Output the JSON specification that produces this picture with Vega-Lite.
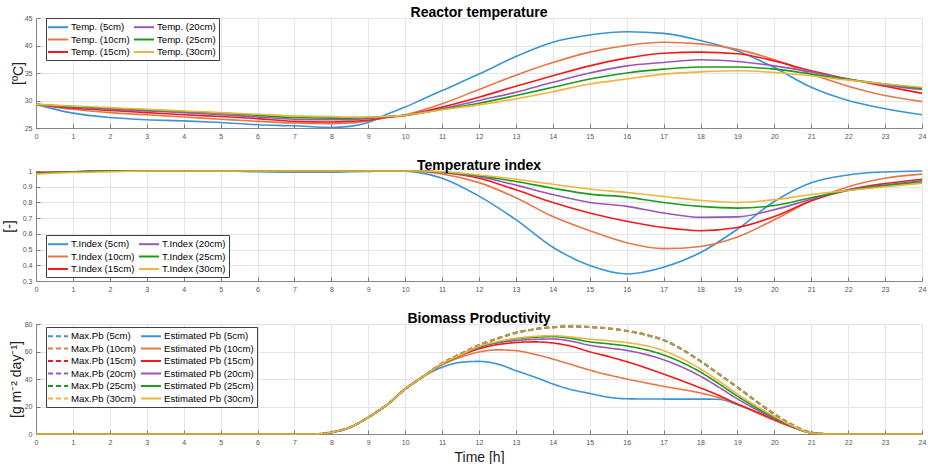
{
"$schema":"https://vega.github.io/schema/vega-lite/v6.json",
"background":"white",
"padding":{"left":2,"top":6,"right":2,"bottom":0},
"bounds":"flush",
"spacing":43,
"resolve":{"scale":{"color":"independent","strokeDash":"independent"},"legend":{"color":"independent","strokeDash":"independent"}},
"config":{
 "font":"Liberation Sans",
 "view":{"stroke":null},
 "axis":{"labelFont":"Liberation Sans","labelFontSize":7,"labelColor":"#555","tickSize":-4,"labelPadding":8,"tickColor":"#777","domainColor":"#888","gridColor":"#e4e4e4","titleFont":"Liberation Sans","titleFontSize":14,"titleFontWeight":"normal","titleColor":"#222","labelFlush":false},
 "axisY":{"titleBaseline":"alphabetic"},
 "title":{"fontSize":14,"fontWeight":"bold","font":"Liberation Sans","color":"#000","offset":-6,"baseline":"alphabetic","frame":"group","anchor":"middle"},
 "legend":{"labelFont":"Liberation Sans","labelFontSize":9.6,"labelColor":"#000","padding":3,"strokeColor":"#404040","fillColor":"#ffffff","rowPadding":1.5,"columnPadding":0,"symbolSize":100,"symbolStrokeWidth":2,"symbolOffset":3,"labelOffset":7,"symbolFillColor":"transparent","symbolOpacity":1,"labelLimit":300}
},
"datasets":{
"t":[
{"h":0,"d":"5cm","T":29.3,"I":0.99},{"h":1,"d":"5cm","T":27.7,"I":0.995},{"h":2,"d":"5cm","T":26.9,"I":1},{"h":3,"d":"5cm","T":26.5,"I":1},{"h":4,"d":"5cm","T":26.3,"I":1},{"h":5,"d":"5cm","T":26.0,"I":1},{"h":6,"d":"5cm","T":25.6,"I":0.995},{"h":7,"d":"5cm","T":25.4,"I":0.993},{"h":8,"d":"5cm","T":25.1,"I":0.993},{"h":8.5,"d":"5cm","T":25.3,"I":0.995},{"h":9,"d":"5cm","T":26.0,"I":0.997},{"h":9.5,"d":"5cm","T":27.5,"I":1},{"h":10,"d":"5cm","T":28.8,"I":0.998},{"h":10.5,"d":"5cm","T":30.3,"I":0.985},{"h":11,"d":"5cm","T":31.8,"I":0.954},{"h":12,"d":"5cm","T":34.8,"I":0.84},{"h":13,"d":"5cm","T":38.0,"I":0.69},{"h":14,"d":"5cm","T":40.6,"I":0.515},{"h":15,"d":"5cm","T":41.9,"I":0.398},{"h":16,"d":"5cm","T":42.5,"I":0.345},{"h":17,"d":"5cm","T":42.2,"I":0.388},{"h":18,"d":"5cm","T":40.9,"I":0.481},{"h":19,"d":"5cm","T":39.0,"I":0.63},{"h":20,"d":"5cm","T":36.0,"I":0.806},{"h":21,"d":"5cm","T":32.4,"I":0.925},{"h":22,"d":"5cm","T":30.0,"I":0.975},{"h":23,"d":"5cm","T":28.5,"I":0.994},{"h":24,"d":"5cm","T":27.4,"I":1},
{"h":0,"d":"10cm","T":29.3,"I":0.99},{"h":1,"d":"10cm","T":28.4,"I":0.995},{"h":2,"d":"10cm","T":27.8,"I":1},{"h":3,"d":"10cm","T":27.4,"I":1},{"h":4,"d":"10cm","T":27.0,"I":1},{"h":5,"d":"10cm","T":26.6,"I":1},{"h":6,"d":"10cm","T":26.2,"I":1},{"h":7,"d":"10cm","T":25.9,"I":0.997},{"h":8,"d":"10cm","T":25.8,"I":0.997},{"h":8.5,"d":"10cm","T":25.9,"I":0.998},{"h":9,"d":"10cm","T":26.3,"I":1},{"h":9.5,"d":"10cm","T":26.9,"I":1},{"h":10,"d":"10cm","T":27.4,"I":1},{"h":10.5,"d":"10cm","T":28.3,"I":0.995},{"h":11,"d":"10cm","T":29.4,"I":0.981},{"h":12,"d":"10cm","T":32.0,"I":0.926},{"h":13,"d":"10cm","T":34.6,"I":0.83},{"h":14,"d":"10cm","T":36.9,"I":0.71},{"h":15,"d":"10cm","T":38.8,"I":0.62},{"h":16,"d":"10cm","T":40.0,"I":0.544},{"h":17,"d":"10cm","T":40.6,"I":0.506},{"h":18,"d":"10cm","T":40.3,"I":0.52},{"h":19,"d":"10cm","T":39.3,"I":0.58},{"h":20,"d":"10cm","T":37.4,"I":0.69},{"h":21,"d":"10cm","T":34.8,"I":0.81},{"h":22,"d":"10cm","T":32.6,"I":0.9},{"h":23,"d":"10cm","T":30.9,"I":0.954},{"h":24,"d":"10cm","T":29.8,"I":0.98},
{"h":0,"d":"15cm","T":29.3,"I":0.99},{"h":1,"d":"15cm","T":28.6,"I":0.995},{"h":2,"d":"15cm","T":28.2,"I":1},{"h":3,"d":"15cm","T":27.8,"I":1},{"h":4,"d":"15cm","T":27.4,"I":1},{"h":5,"d":"15cm","T":27.1,"I":1},{"h":6,"d":"15cm","T":26.7,"I":1},{"h":7,"d":"15cm","T":26.2,"I":0.998},{"h":8,"d":"15cm","T":26.1,"I":0.998},{"h":8.5,"d":"15cm","T":26.2,"I":0.999},{"h":9,"d":"15cm","T":26.4,"I":1},{"h":9.5,"d":"15cm","T":26.9,"I":1},{"h":10,"d":"15cm","T":27.3,"I":1},{"h":10.5,"d":"15cm","T":28.0,"I":0.998},{"h":11,"d":"15cm","T":28.8,"I":0.99},{"h":12,"d":"15cm","T":30.6,"I":0.954},{"h":13,"d":"15cm","T":32.6,"I":0.88},{"h":14,"d":"15cm","T":34.5,"I":0.8},{"h":15,"d":"15cm","T":36.3,"I":0.733},{"h":16,"d":"15cm","T":37.7,"I":0.68},{"h":17,"d":"15cm","T":38.6,"I":0.64},{"h":18,"d":"15cm","T":38.8,"I":0.62},{"h":19,"d":"15cm","T":38.5,"I":0.64},{"h":20,"d":"15cm","T":37.2,"I":0.71},{"h":21,"d":"15cm","T":35.4,"I":0.81},{"h":22,"d":"15cm","T":33.9,"I":0.88},{"h":23,"d":"15cm","T":32.6,"I":0.92},{"h":24,"d":"15cm","T":31.3,"I":0.948},
{"h":0,"d":"20cm","T":29.3,"I":0.985},{"h":1,"d":"20cm","T":28.8,"I":0.995},{"h":2,"d":"20cm","T":28.4,"I":1},{"h":3,"d":"20cm","T":28.1,"I":1},{"h":4,"d":"20cm","T":27.8,"I":1},{"h":5,"d":"20cm","T":27.4,"I":1},{"h":6,"d":"20cm","T":27.0,"I":1},{"h":7,"d":"20cm","T":26.6,"I":1},{"h":8,"d":"20cm","T":26.5,"I":1},{"h":8.5,"d":"20cm","T":26.5,"I":1},{"h":9,"d":"20cm","T":26.7,"I":1},{"h":9.5,"d":"20cm","T":27.0,"I":1},{"h":10,"d":"20cm","T":27.3,"I":1},{"h":10.5,"d":"20cm","T":27.9,"I":1},{"h":11,"d":"20cm","T":28.5,"I":0.99},{"h":12,"d":"20cm","T":30.0,"I":0.964},{"h":13,"d":"20cm","T":31.5,"I":0.91},{"h":14,"d":"20cm","T":33.3,"I":0.85},{"h":15,"d":"20cm","T":35.0,"I":0.8},{"h":16,"d":"20cm","T":36.3,"I":0.775},{"h":17,"d":"20cm","T":36.9,"I":0.733},{"h":18,"d":"20cm","T":37.4,"I":0.705},{"h":19,"d":"20cm","T":37.1,"I":0.708},{"h":20,"d":"20cm","T":36.3,"I":0.754},{"h":21,"d":"20cm","T":35.2,"I":0.82},{"h":22,"d":"20cm","T":33.9,"I":0.88},{"h":23,"d":"20cm","T":32.8,"I":0.91},{"h":24,"d":"20cm","T":32.0,"I":0.94},
{"h":0,"d":"25cm","T":29.3,"I":0.985},{"h":1,"d":"25cm","T":28.9,"I":0.995},{"h":2,"d":"25cm","T":28.6,"I":1},{"h":3,"d":"25cm","T":28.3,"I":1},{"h":4,"d":"25cm","T":28.0,"I":1},{"h":5,"d":"25cm","T":27.7,"I":1},{"h":6,"d":"25cm","T":27.3,"I":1},{"h":7,"d":"25cm","T":26.9,"I":1},{"h":8,"d":"25cm","T":26.8,"I":1},{"h":8.5,"d":"25cm","T":26.8,"I":1},{"h":9,"d":"25cm","T":26.9,"I":1},{"h":9.5,"d":"25cm","T":27.1,"I":1},{"h":10,"d":"25cm","T":27.3,"I":1},{"h":10.5,"d":"25cm","T":27.8,"I":1},{"h":11,"d":"25cm","T":28.4,"I":0.993},{"h":12,"d":"25cm","T":29.5,"I":0.97},{"h":13,"d":"25cm","T":30.9,"I":0.933},{"h":14,"d":"25cm","T":32.4,"I":0.89},{"h":15,"d":"25cm","T":33.9,"I":0.853},{"h":16,"d":"25cm","T":35.0,"I":0.834},{"h":17,"d":"25cm","T":35.7,"I":0.8},{"h":18,"d":"25cm","T":36.1,"I":0.775},{"h":19,"d":"25cm","T":36.1,"I":0.764},{"h":20,"d":"25cm","T":35.7,"I":0.78},{"h":21,"d":"25cm","T":34.8,"I":0.83},{"h":22,"d":"25cm","T":33.8,"I":0.876},{"h":23,"d":"25cm","T":33.0,"I":0.907},{"h":24,"d":"25cm","T":32.2,"I":0.929},
{"h":0,"d":"30cm","T":29.3,"I":0.98},{"h":1,"d":"30cm","T":29.0,"I":0.99},{"h":2,"d":"30cm","T":28.7,"I":0.995},{"h":3,"d":"30cm","T":28.4,"I":1},{"h":4,"d":"30cm","T":28.1,"I":1},{"h":5,"d":"30cm","T":27.8,"I":1},{"h":6,"d":"30cm","T":27.5,"I":1},{"h":7,"d":"30cm","T":27.2,"I":1},{"h":8,"d":"30cm","T":27.1,"I":1},{"h":8.5,"d":"30cm","T":27.0,"I":1},{"h":9,"d":"30cm","T":27.0,"I":1},{"h":9.5,"d":"30cm","T":27.1,"I":1},{"h":10,"d":"30cm","T":27.3,"I":1},{"h":10.5,"d":"30cm","T":27.8,"I":1},{"h":11,"d":"30cm","T":28.3,"I":0.995},{"h":12,"d":"30cm","T":29.2,"I":0.975},{"h":13,"d":"30cm","T":30.3,"I":0.948},{"h":14,"d":"30cm","T":31.6,"I":0.916},{"h":15,"d":"30cm","T":33.0,"I":0.885},{"h":16,"d":"30cm","T":33.9,"I":0.863},{"h":17,"d":"30cm","T":34.8,"I":0.838},{"h":18,"d":"30cm","T":35.2,"I":0.813},{"h":19,"d":"30cm","T":35.4,"I":0.8},{"h":20,"d":"30cm","T":35.1,"I":0.817},{"h":21,"d":"30cm","T":34.5,"I":0.85},{"h":22,"d":"30cm","T":33.7,"I":0.876},{"h":23,"d":"30cm","T":33.0,"I":0.9},{"h":24,"d":"30cm","T":32.4,"I":0.922}
],
"pm":[
{"h":0,"s":"Max.Pb (5cm)","v":0},{"h":7.5,"s":"Max.Pb (5cm)","v":0},{"h":8,"s":"Max.Pb (5cm)","v":1.2},{"h":8.5,"s":"Max.Pb (5cm)","v":4.8},{"h":9,"s":"Max.Pb (5cm)","v":12.1},{"h":9.5,"s":"Max.Pb (5cm)","v":21.1},{"h":10,"s":"Max.Pb (5cm)","v":32.7},{"h":10.5,"s":"Max.Pb (5cm)","v":42.0},{"h":11,"s":"Max.Pb (5cm)","v":51.3},{"h":11.5,"s":"Max.Pb (5cm)","v":58.3},{"h":12,"s":"Max.Pb (5cm)","v":64.6},{"h":12.5,"s":"Max.Pb (5cm)","v":69.5},{"h":13,"s":"Max.Pb (5cm)","v":73.6},{"h":13.5,"s":"Max.Pb (5cm)","v":76.2},{"h":14,"s":"Max.Pb (5cm)","v":77.6},{"h":14.5,"s":"Max.Pb (5cm)","v":78.2},{"h":15,"s":"Max.Pb (5cm)","v":77.8},{"h":15.5,"s":"Max.Pb (5cm)","v":76.8},{"h":16,"s":"Max.Pb (5cm)","v":75.0},{"h":16.5,"s":"Max.Pb (5cm)","v":72.3},{"h":17,"s":"Max.Pb (5cm)","v":68.3},{"h":17.5,"s":"Max.Pb (5cm)","v":61.5},{"h":18,"s":"Max.Pb (5cm)","v":53.0},{"h":18.5,"s":"Max.Pb (5cm)","v":43.5},{"h":19,"s":"Max.Pb (5cm)","v":34.0},{"h":19.5,"s":"Max.Pb (5cm)","v":24.0},{"h":20,"s":"Max.Pb (5cm)","v":14.5},{"h":20.5,"s":"Max.Pb (5cm)","v":6.5},{"h":21,"s":"Max.Pb (5cm)","v":1.0},{"h":21.5,"s":"Max.Pb (5cm)","v":0},{"h":24,"s":"Max.Pb (5cm)","v":0},
{"h":0,"s":"Max.Pb (10cm)","v":0},{"h":7.5,"s":"Max.Pb (10cm)","v":0},{"h":8,"s":"Max.Pb (10cm)","v":1.2},{"h":8.5,"s":"Max.Pb (10cm)","v":4.8},{"h":9,"s":"Max.Pb (10cm)","v":12.1},{"h":9.5,"s":"Max.Pb (10cm)","v":21.1},{"h":10,"s":"Max.Pb (10cm)","v":32.7},{"h":10.5,"s":"Max.Pb (10cm)","v":42.0},{"h":11,"s":"Max.Pb (10cm)","v":51.3},{"h":11.5,"s":"Max.Pb (10cm)","v":58.3},{"h":12,"s":"Max.Pb (10cm)","v":64.6},{"h":12.5,"s":"Max.Pb (10cm)","v":69.5},{"h":13,"s":"Max.Pb (10cm)","v":73.6},{"h":13.5,"s":"Max.Pb (10cm)","v":76.2},{"h":14,"s":"Max.Pb (10cm)","v":77.6},{"h":14.5,"s":"Max.Pb (10cm)","v":78.2},{"h":15,"s":"Max.Pb (10cm)","v":77.8},{"h":15.5,"s":"Max.Pb (10cm)","v":76.8},{"h":16,"s":"Max.Pb (10cm)","v":75.0},{"h":16.5,"s":"Max.Pb (10cm)","v":72.3},{"h":17,"s":"Max.Pb (10cm)","v":68.3},{"h":17.5,"s":"Max.Pb (10cm)","v":61.5},{"h":18,"s":"Max.Pb (10cm)","v":53.0},{"h":18.5,"s":"Max.Pb (10cm)","v":43.5},{"h":19,"s":"Max.Pb (10cm)","v":34.0},{"h":19.5,"s":"Max.Pb (10cm)","v":24.0},{"h":20,"s":"Max.Pb (10cm)","v":14.5},{"h":20.5,"s":"Max.Pb (10cm)","v":6.5},{"h":21,"s":"Max.Pb (10cm)","v":1.0},{"h":21.5,"s":"Max.Pb (10cm)","v":0},{"h":24,"s":"Max.Pb (10cm)","v":0},
{"h":0,"s":"Max.Pb (15cm)","v":0},{"h":7.5,"s":"Max.Pb (15cm)","v":0},{"h":8,"s":"Max.Pb (15cm)","v":1.2},{"h":8.5,"s":"Max.Pb (15cm)","v":4.8},{"h":9,"s":"Max.Pb (15cm)","v":12.1},{"h":9.5,"s":"Max.Pb (15cm)","v":21.1},{"h":10,"s":"Max.Pb (15cm)","v":32.7},{"h":10.5,"s":"Max.Pb (15cm)","v":42.0},{"h":11,"s":"Max.Pb (15cm)","v":51.3},{"h":11.5,"s":"Max.Pb (15cm)","v":58.3},{"h":12,"s":"Max.Pb (15cm)","v":64.6},{"h":12.5,"s":"Max.Pb (15cm)","v":69.5},{"h":13,"s":"Max.Pb (15cm)","v":73.6},{"h":13.5,"s":"Max.Pb (15cm)","v":76.2},{"h":14,"s":"Max.Pb (15cm)","v":77.6},{"h":14.5,"s":"Max.Pb (15cm)","v":78.2},{"h":15,"s":"Max.Pb (15cm)","v":77.8},{"h":15.5,"s":"Max.Pb (15cm)","v":76.8},{"h":16,"s":"Max.Pb (15cm)","v":75.0},{"h":16.5,"s":"Max.Pb (15cm)","v":72.3},{"h":17,"s":"Max.Pb (15cm)","v":68.3},{"h":17.5,"s":"Max.Pb (15cm)","v":61.5},{"h":18,"s":"Max.Pb (15cm)","v":53.0},{"h":18.5,"s":"Max.Pb (15cm)","v":43.5},{"h":19,"s":"Max.Pb (15cm)","v":34.0},{"h":19.5,"s":"Max.Pb (15cm)","v":24.0},{"h":20,"s":"Max.Pb (15cm)","v":14.5},{"h":20.5,"s":"Max.Pb (15cm)","v":6.5},{"h":21,"s":"Max.Pb (15cm)","v":1.0},{"h":21.5,"s":"Max.Pb (15cm)","v":0},{"h":24,"s":"Max.Pb (15cm)","v":0},
{"h":0,"s":"Max.Pb (20cm)","v":0},{"h":7.5,"s":"Max.Pb (20cm)","v":0},{"h":8,"s":"Max.Pb (20cm)","v":1.2},{"h":8.5,"s":"Max.Pb (20cm)","v":4.8},{"h":9,"s":"Max.Pb (20cm)","v":12.1},{"h":9.5,"s":"Max.Pb (20cm)","v":21.1},{"h":10,"s":"Max.Pb (20cm)","v":32.7},{"h":10.5,"s":"Max.Pb (20cm)","v":42.0},{"h":11,"s":"Max.Pb (20cm)","v":51.3},{"h":11.5,"s":"Max.Pb (20cm)","v":58.3},{"h":12,"s":"Max.Pb (20cm)","v":64.6},{"h":12.5,"s":"Max.Pb (20cm)","v":69.5},{"h":13,"s":"Max.Pb (20cm)","v":73.6},{"h":13.5,"s":"Max.Pb (20cm)","v":76.2},{"h":14,"s":"Max.Pb (20cm)","v":77.6},{"h":14.5,"s":"Max.Pb (20cm)","v":78.2},{"h":15,"s":"Max.Pb (20cm)","v":77.8},{"h":15.5,"s":"Max.Pb (20cm)","v":76.8},{"h":16,"s":"Max.Pb (20cm)","v":75.0},{"h":16.5,"s":"Max.Pb (20cm)","v":72.3},{"h":17,"s":"Max.Pb (20cm)","v":68.3},{"h":17.5,"s":"Max.Pb (20cm)","v":61.5},{"h":18,"s":"Max.Pb (20cm)","v":53.0},{"h":18.5,"s":"Max.Pb (20cm)","v":43.5},{"h":19,"s":"Max.Pb (20cm)","v":34.0},{"h":19.5,"s":"Max.Pb (20cm)","v":24.0},{"h":20,"s":"Max.Pb (20cm)","v":14.5},{"h":20.5,"s":"Max.Pb (20cm)","v":6.5},{"h":21,"s":"Max.Pb (20cm)","v":1.0},{"h":21.5,"s":"Max.Pb (20cm)","v":0},{"h":24,"s":"Max.Pb (20cm)","v":0},
{"h":0,"s":"Max.Pb (25cm)","v":0},{"h":7.5,"s":"Max.Pb (25cm)","v":0},{"h":8,"s":"Max.Pb (25cm)","v":1.2},{"h":8.5,"s":"Max.Pb (25cm)","v":4.8},{"h":9,"s":"Max.Pb (25cm)","v":12.1},{"h":9.5,"s":"Max.Pb (25cm)","v":21.1},{"h":10,"s":"Max.Pb (25cm)","v":32.7},{"h":10.5,"s":"Max.Pb (25cm)","v":42.0},{"h":11,"s":"Max.Pb (25cm)","v":51.3},{"h":11.5,"s":"Max.Pb (25cm)","v":58.3},{"h":12,"s":"Max.Pb (25cm)","v":64.6},{"h":12.5,"s":"Max.Pb (25cm)","v":69.5},{"h":13,"s":"Max.Pb (25cm)","v":73.6},{"h":13.5,"s":"Max.Pb (25cm)","v":76.2},{"h":14,"s":"Max.Pb (25cm)","v":77.6},{"h":14.5,"s":"Max.Pb (25cm)","v":78.2},{"h":15,"s":"Max.Pb (25cm)","v":77.8},{"h":15.5,"s":"Max.Pb (25cm)","v":76.8},{"h":16,"s":"Max.Pb (25cm)","v":75.0},{"h":16.5,"s":"Max.Pb (25cm)","v":72.3},{"h":17,"s":"Max.Pb (25cm)","v":68.3},{"h":17.5,"s":"Max.Pb (25cm)","v":61.5},{"h":18,"s":"Max.Pb (25cm)","v":53.0},{"h":18.5,"s":"Max.Pb (25cm)","v":43.5},{"h":19,"s":"Max.Pb (25cm)","v":34.0},{"h":19.5,"s":"Max.Pb (25cm)","v":24.0},{"h":20,"s":"Max.Pb (25cm)","v":14.5},{"h":20.5,"s":"Max.Pb (25cm)","v":6.5},{"h":21,"s":"Max.Pb (25cm)","v":1.0},{"h":21.5,"s":"Max.Pb (25cm)","v":0},{"h":24,"s":"Max.Pb (25cm)","v":0},
{"h":0,"s":"Max.Pb (30cm)","v":0},{"h":7.5,"s":"Max.Pb (30cm)","v":0},{"h":8,"s":"Max.Pb (30cm)","v":1.2},{"h":8.5,"s":"Max.Pb (30cm)","v":4.8},{"h":9,"s":"Max.Pb (30cm)","v":12.1},{"h":9.5,"s":"Max.Pb (30cm)","v":21.1},{"h":10,"s":"Max.Pb (30cm)","v":32.7},{"h":10.5,"s":"Max.Pb (30cm)","v":42.0},{"h":11,"s":"Max.Pb (30cm)","v":51.3},{"h":11.5,"s":"Max.Pb (30cm)","v":58.3},{"h":12,"s":"Max.Pb (30cm)","v":64.6},{"h":12.5,"s":"Max.Pb (30cm)","v":69.5},{"h":13,"s":"Max.Pb (30cm)","v":73.6},{"h":13.5,"s":"Max.Pb (30cm)","v":76.2},{"h":14,"s":"Max.Pb (30cm)","v":77.6},{"h":14.5,"s":"Max.Pb (30cm)","v":78.2},{"h":15,"s":"Max.Pb (30cm)","v":77.8},{"h":15.5,"s":"Max.Pb (30cm)","v":76.8},{"h":16,"s":"Max.Pb (30cm)","v":75.0},{"h":16.5,"s":"Max.Pb (30cm)","v":72.3},{"h":17,"s":"Max.Pb (30cm)","v":68.3},{"h":17.5,"s":"Max.Pb (30cm)","v":61.5},{"h":18,"s":"Max.Pb (30cm)","v":53.0},{"h":18.5,"s":"Max.Pb (30cm)","v":43.5},{"h":19,"s":"Max.Pb (30cm)","v":34.0},{"h":19.5,"s":"Max.Pb (30cm)","v":24.0},{"h":20,"s":"Max.Pb (30cm)","v":14.5},{"h":20.5,"s":"Max.Pb (30cm)","v":6.5},{"h":21,"s":"Max.Pb (30cm)","v":1.0},{"h":21.5,"s":"Max.Pb (30cm)","v":0},{"h":24,"s":"Max.Pb (30cm)","v":0}
],
"pe":[
{"h":0,"s":"Estimated Pb (5cm)","v":0},{"h":7.5,"s":"Estimated Pb (5cm)","v":0},{"h":8,"s":"Estimated Pb (5cm)","v":1.2},{"h":8.5,"s":"Estimated Pb (5cm)","v":4.8},{"h":9,"s":"Estimated Pb (5cm)","v":12.1},{"h":9.5,"s":"Estimated Pb (5cm)","v":21.1},{"h":10,"s":"Estimated Pb (5cm)","v":32.7},{"h":10.5,"s":"Estimated Pb (5cm)","v":42.0},{"h":11,"s":"Estimated Pb (5cm)","v":48.5},{"h":11.5,"s":"Estimated Pb (5cm)","v":52.1},{"h":12,"s":"Estimated Pb (5cm)","v":52.8},{"h":12.5,"s":"Estimated Pb (5cm)","v":50.9},{"h":13,"s":"Estimated Pb (5cm)","v":46.1},{"h":13.5,"s":"Estimated Pb (5cm)","v":41.5},{"h":14,"s":"Estimated Pb (5cm)","v":36.4},{"h":14.5,"s":"Estimated Pb (5cm)","v":32.3},{"h":15,"s":"Estimated Pb (5cm)","v":29.5},{"h":15.5,"s":"Estimated Pb (5cm)","v":26.8},{"h":16,"s":"Estimated Pb (5cm)","v":25.6},{"h":17,"s":"Estimated Pb (5cm)","v":25.4},{"h":18,"s":"Estimated Pb (5cm)","v":25.4},{"h":18.5,"s":"Estimated Pb (5cm)","v":25.2},{"h":19,"s":"Estimated Pb (5cm)","v":21.3},{"h":19.5,"s":"Estimated Pb (5cm)","v":16.0},{"h":20,"s":"Estimated Pb (5cm)","v":10.4},{"h":20.5,"s":"Estimated Pb (5cm)","v":5.0},{"h":21,"s":"Estimated Pb (5cm)","v":0.8},{"h":21.5,"s":"Estimated Pb (5cm)","v":0},{"h":24,"s":"Estimated Pb (5cm)","v":0},
{"h":0,"s":"Estimated Pb (10cm)","v":0},{"h":7.5,"s":"Estimated Pb (10cm)","v":0},{"h":8,"s":"Estimated Pb (10cm)","v":1.2},{"h":8.5,"s":"Estimated Pb (10cm)","v":4.8},{"h":9,"s":"Estimated Pb (10cm)","v":12.1},{"h":9.5,"s":"Estimated Pb (10cm)","v":21.1},{"h":10,"s":"Estimated Pb (10cm)","v":32.7},{"h":10.5,"s":"Estimated Pb (10cm)","v":42.0},{"h":11,"s":"Estimated Pb (10cm)","v":50.3},{"h":11.5,"s":"Estimated Pb (10cm)","v":55.8},{"h":12,"s":"Estimated Pb (10cm)","v":59.6},{"h":12.5,"s":"Estimated Pb (10cm)","v":61.2},{"h":13,"s":"Estimated Pb (10cm)","v":60.6},{"h":13.5,"s":"Estimated Pb (10cm)","v":58.0},{"h":14,"s":"Estimated Pb (10cm)","v":54.5},{"h":14.5,"s":"Estimated Pb (10cm)","v":50.5},{"h":15,"s":"Estimated Pb (10cm)","v":46.5},{"h":15.5,"s":"Estimated Pb (10cm)","v":43.0},{"h":16,"s":"Estimated Pb (10cm)","v":40.0},{"h":17,"s":"Estimated Pb (10cm)","v":34.7},{"h":18,"s":"Estimated Pb (10cm)","v":29.8},{"h":18.5,"s":"Estimated Pb (10cm)","v":26.5},{"h":19,"s":"Estimated Pb (10cm)","v":21.8},{"h":19.5,"s":"Estimated Pb (10cm)","v":15.8},{"h":20,"s":"Estimated Pb (10cm)","v":9.9},{"h":20.5,"s":"Estimated Pb (10cm)","v":4.9},{"h":21,"s":"Estimated Pb (10cm)","v":0.8},{"h":21.5,"s":"Estimated Pb (10cm)","v":0},{"h":24,"s":"Estimated Pb (10cm)","v":0},
{"h":0,"s":"Estimated Pb (15cm)","v":0},{"h":7.5,"s":"Estimated Pb (15cm)","v":0},{"h":8,"s":"Estimated Pb (15cm)","v":1.2},{"h":8.5,"s":"Estimated Pb (15cm)","v":4.8},{"h":9,"s":"Estimated Pb (15cm)","v":12.1},{"h":9.5,"s":"Estimated Pb (15cm)","v":21.1},{"h":10,"s":"Estimated Pb (15cm)","v":32.7},{"h":10.5,"s":"Estimated Pb (15cm)","v":42.0},{"h":11,"s":"Estimated Pb (15cm)","v":50.8},{"h":11.5,"s":"Estimated Pb (15cm)","v":57.0},{"h":12,"s":"Estimated Pb (15cm)","v":62.0},{"h":12.5,"s":"Estimated Pb (15cm)","v":65.0},{"h":13,"s":"Estimated Pb (15cm)","v":66.5},{"h":13.5,"s":"Estimated Pb (15cm)","v":67.0},{"h":14,"s":"Estimated Pb (15cm)","v":66.2},{"h":14.5,"s":"Estimated Pb (15cm)","v":63.8},{"h":15,"s":"Estimated Pb (15cm)","v":59.8},{"h":15.5,"s":"Estimated Pb (15cm)","v":56.4},{"h":16,"s":"Estimated Pb (15cm)","v":52.6},{"h":17,"s":"Estimated Pb (15cm)","v":43.6},{"h":18,"s":"Estimated Pb (15cm)","v":33.5},{"h":18.5,"s":"Estimated Pb (15cm)","v":28.0},{"h":19,"s":"Estimated Pb (15cm)","v":21.8},{"h":19.5,"s":"Estimated Pb (15cm)","v":16.2},{"h":20,"s":"Estimated Pb (15cm)","v":10.4},{"h":20.5,"s":"Estimated Pb (15cm)","v":5.0},{"h":21,"s":"Estimated Pb (15cm)","v":0.8},{"h":21.5,"s":"Estimated Pb (15cm)","v":0},{"h":24,"s":"Estimated Pb (15cm)","v":0},
{"h":0,"s":"Estimated Pb (20cm)","v":0},{"h":7.5,"s":"Estimated Pb (20cm)","v":0},{"h":8,"s":"Estimated Pb (20cm)","v":1.2},{"h":8.5,"s":"Estimated Pb (20cm)","v":4.8},{"h":9,"s":"Estimated Pb (20cm)","v":12.1},{"h":9.5,"s":"Estimated Pb (20cm)","v":21.1},{"h":10,"s":"Estimated Pb (20cm)","v":32.7},{"h":10.5,"s":"Estimated Pb (20cm)","v":42.0},{"h":11,"s":"Estimated Pb (20cm)","v":51.0},{"h":11.5,"s":"Estimated Pb (20cm)","v":57.3},{"h":12,"s":"Estimated Pb (20cm)","v":63.0},{"h":12.5,"s":"Estimated Pb (20cm)","v":66.2},{"h":13,"s":"Estimated Pb (20cm)","v":67.9},{"h":13.5,"s":"Estimated Pb (20cm)","v":68.8},{"h":14,"s":"Estimated Pb (20cm)","v":69.1},{"h":14.5,"s":"Estimated Pb (20cm)","v":67.5},{"h":15,"s":"Estimated Pb (20cm)","v":64.5},{"h":15.5,"s":"Estimated Pb (20cm)","v":62.6},{"h":16,"s":"Estimated Pb (20cm)","v":60.8},{"h":17,"s":"Estimated Pb (20cm)","v":54.0},{"h":18,"s":"Estimated Pb (20cm)","v":42.0},{"h":18.5,"s":"Estimated Pb (20cm)","v":34.0},{"h":19,"s":"Estimated Pb (20cm)","v":25.5},{"h":19.5,"s":"Estimated Pb (20cm)","v":18.0},{"h":20,"s":"Estimated Pb (20cm)","v":11.2},{"h":20.5,"s":"Estimated Pb (20cm)","v":5.2},{"h":21,"s":"Estimated Pb (20cm)","v":0.8},{"h":21.5,"s":"Estimated Pb (20cm)","v":0},{"h":24,"s":"Estimated Pb (20cm)","v":0},
{"h":0,"s":"Estimated Pb (25cm)","v":0},{"h":7.5,"s":"Estimated Pb (25cm)","v":0},{"h":8,"s":"Estimated Pb (25cm)","v":1.2},{"h":8.5,"s":"Estimated Pb (25cm)","v":4.8},{"h":9,"s":"Estimated Pb (25cm)","v":12.1},{"h":9.5,"s":"Estimated Pb (25cm)","v":21.1},{"h":10,"s":"Estimated Pb (25cm)","v":32.7},{"h":10.5,"s":"Estimated Pb (25cm)","v":42.0},{"h":11,"s":"Estimated Pb (25cm)","v":51.0},{"h":11.5,"s":"Estimated Pb (25cm)","v":57.4},{"h":12,"s":"Estimated Pb (25cm)","v":63.5},{"h":12.5,"s":"Estimated Pb (25cm)","v":66.8},{"h":13,"s":"Estimated Pb (25cm)","v":69.1},{"h":13.5,"s":"Estimated Pb (25cm)","v":70.3},{"h":14,"s":"Estimated Pb (25cm)","v":70.8},{"h":14.5,"s":"Estimated Pb (25cm)","v":69.5},{"h":15,"s":"Estimated Pb (25cm)","v":67.0},{"h":15.5,"s":"Estimated Pb (25cm)","v":65.6},{"h":16,"s":"Estimated Pb (25cm)","v":64.0},{"h":17,"s":"Estimated Pb (25cm)","v":57.5},{"h":18,"s":"Estimated Pb (25cm)","v":45.0},{"h":18.5,"s":"Estimated Pb (25cm)","v":36.5},{"h":19,"s":"Estimated Pb (25cm)","v":27.5},{"h":19.5,"s":"Estimated Pb (25cm)","v":19.3},{"h":20,"s":"Estimated Pb (25cm)","v":12.0},{"h":20.5,"s":"Estimated Pb (25cm)","v":5.5},{"h":21,"s":"Estimated Pb (25cm)","v":0.8},{"h":21.5,"s":"Estimated Pb (25cm)","v":0},{"h":24,"s":"Estimated Pb (25cm)","v":0},
{"h":0,"s":"Estimated Pb (30cm)","v":0},{"h":7.5,"s":"Estimated Pb (30cm)","v":0},{"h":8,"s":"Estimated Pb (30cm)","v":1.2},{"h":8.5,"s":"Estimated Pb (30cm)","v":4.8},{"h":9,"s":"Estimated Pb (30cm)","v":12.1},{"h":9.5,"s":"Estimated Pb (30cm)","v":21.1},{"h":10,"s":"Estimated Pb (30cm)","v":32.7},{"h":10.5,"s":"Estimated Pb (30cm)","v":42.0},{"h":11,"s":"Estimated Pb (30cm)","v":51.1},{"h":11.5,"s":"Estimated Pb (30cm)","v":57.5},{"h":12,"s":"Estimated Pb (30cm)","v":63.8},{"h":12.5,"s":"Estimated Pb (30cm)","v":67.2},{"h":13,"s":"Estimated Pb (30cm)","v":69.6},{"h":13.5,"s":"Estimated Pb (30cm)","v":71.0},{"h":14,"s":"Estimated Pb (30cm)","v":71.5},{"h":14.5,"s":"Estimated Pb (30cm)","v":70.5},{"h":15,"s":"Estimated Pb (30cm)","v":69.0},{"h":15.5,"s":"Estimated Pb (30cm)","v":67.8},{"h":16,"s":"Estimated Pb (30cm)","v":66.5},{"h":17,"s":"Estimated Pb (30cm)","v":60.6},{"h":18,"s":"Estimated Pb (30cm)","v":47.3},{"h":18.5,"s":"Estimated Pb (30cm)","v":38.5},{"h":19,"s":"Estimated Pb (30cm)","v":29.1},{"h":19.5,"s":"Estimated Pb (30cm)","v":20.5},{"h":20,"s":"Estimated Pb (30cm)","v":12.9},{"h":20.5,"s":"Estimated Pb (30cm)","v":5.8},{"h":21,"s":"Estimated Pb (30cm)","v":0.8},{"h":21.5,"s":"Estimated Pb (30cm)","v":0},{"h":24,"s":"Estimated Pb (30cm)","v":0}
]
},
"vconcat":[
{
 "width":886,"height":110,
 "title":"Reactor temperature",
 "data":{"name":"t"},
 "mark":{"type":"line","strokeWidth":1.6,"interpolate":"monotone"},
 "encoding":{
  "x":{"field":"h","type":"quantitative","scale":{"domain":[0,24],"nice":false},"axis":{"values":[0,1,2,3,4,5,6,7,8,9,10,11,12,13,14,15,16,17,18,19,20,21,22,23,24],"labelOverlap":false,"title":null}},
  "y":{"field":"T","type":"quantitative","scale":{"domain":[25,45],"nice":false},"axis":{"values":[25,30,35,40,45],"labelOverlap":false,"title":"[ºC]","titleX":-14}},
  "color":{"field":"d","type":"nominal","scale":{"domain":["5cm","10cm","15cm","20cm","25cm","30cm"],"range":["#3A94D6","#E4784A","#F21B1B","#9A56B8","#1F9A1F","#F0B43C"]},
   "legend":{"orient":"none","legendX":10,"legendY":0,"columns":2,"title":null,"symbolType":"M-2,0H2","labelExpr":"'Temp. (' + datum.label + ')'"}}
 }
},
{
 "width":886,"height":110,
 "title":"Temperature index",
 "data":{"name":"t"},
 "mark":{"type":"line","strokeWidth":1.6,"interpolate":"monotone"},
 "encoding":{
  "x":{"field":"h","type":"quantitative","scale":{"domain":[0,24],"nice":false},"axis":{"values":[0,1,2,3,4,5,6,7,8,9,10,11,12,13,14,15,16,17,18,19,20,21,22,23,24],"labelOverlap":false,"title":null}},
  "y":{"field":"I","type":"quantitative","scale":{"domain":[0.3,1],"nice":false},"axis":{"values":[0.3,0.4,0.5,0.6,0.7,0.8,0.9,1],"labelOverlap":false,"format":"~g","title":"[-]","titleX":-23}},
  "color":{"field":"d","type":"nominal","scale":{"domain":["5cm","10cm","15cm","20cm","25cm","30cm"],"range":["#3A94D6","#E4784A","#F21B1B","#9A56B8","#1F9A1F","#F0B43C"]},
   "legend":{"orient":"none","legendX":10,"legendY":64,"columns":2,"title":null,"symbolType":"M-2,0H2","labelExpr":"'T.Index (' + datum.label + ')'"}}
 }
},
{
 "width":886,"height":110,
 "title":"Biomass Productivity",
 "encoding":{
  "x":{"field":"h","type":"quantitative","scale":{"domain":[0,24],"nice":false},"axis":{"values":[0,1,2,3,4,5,6,7,8,9,10,11,12,13,14,15,16,17,18,19,20,21,22,23,24],"labelOverlap":false,"title":"Time [h]","titleY":27,"titleBaseline":"alphabetic"}},
  "y":{"field":"v","type":"quantitative","scale":{"domain":[0,80],"nice":false},"axis":{"values":[0,20,40,60,80],"labelOverlap":false,"title":"[g m⁻² day⁻¹]","titleX":-16}},
  "color":{"field":"s","type":"nominal","scale":{"domain":["Max.Pb (5cm)","Max.Pb (10cm)","Max.Pb (15cm)","Max.Pb (20cm)","Max.Pb (25cm)","Max.Pb (30cm)","Estimated Pb (5cm)","Estimated Pb (10cm)","Estimated Pb (15cm)","Estimated Pb (20cm)","Estimated Pb (25cm)","Estimated Pb (30cm)"],"range":["#3A94D6","#E4784A","#F21B1B","#9A56B8","#1F9A1F","#F0B43C","#3A94D6","#E4784A","#F21B1B","#9A56B8","#1F9A1F","#F0B43C"]},
   "legend":{"orient":"none","legendX":10,"legendY":3,"columns":2,"title":null,"symbolType":"M-2,0H2"}},
  "strokeDash":{"field":"s","type":"nominal","scale":{"domain":["Max.Pb (5cm)","Max.Pb (10cm)","Max.Pb (15cm)","Max.Pb (20cm)","Max.Pb (25cm)","Max.Pb (30cm)","Estimated Pb (5cm)","Estimated Pb (10cm)","Estimated Pb (15cm)","Estimated Pb (20cm)","Estimated Pb (25cm)","Estimated Pb (30cm)"],"range":[[5,3],[5,3],[5,3],[5,3],[5,3],[5,3],[1,0],[1,0],[1,0],[1,0],[1,0],[1,0]]},
   "legend":{"orient":"none","legendX":10,"legendY":3,"columns":2,"title":null,"symbolType":"M-2,0H2"}}
 },
 "layer":[
  {
   "data":{"name":"pm"},
   "mark":{"type":"line","strokeWidth":2,"opacity":0.55,"interpolate":"monotone"}
  },
  {
   "data":{"name":"pe"},
   "mark":{"type":"line","strokeWidth":1.6,"interpolate":"monotone"}
  }
 ]
}
]
}
